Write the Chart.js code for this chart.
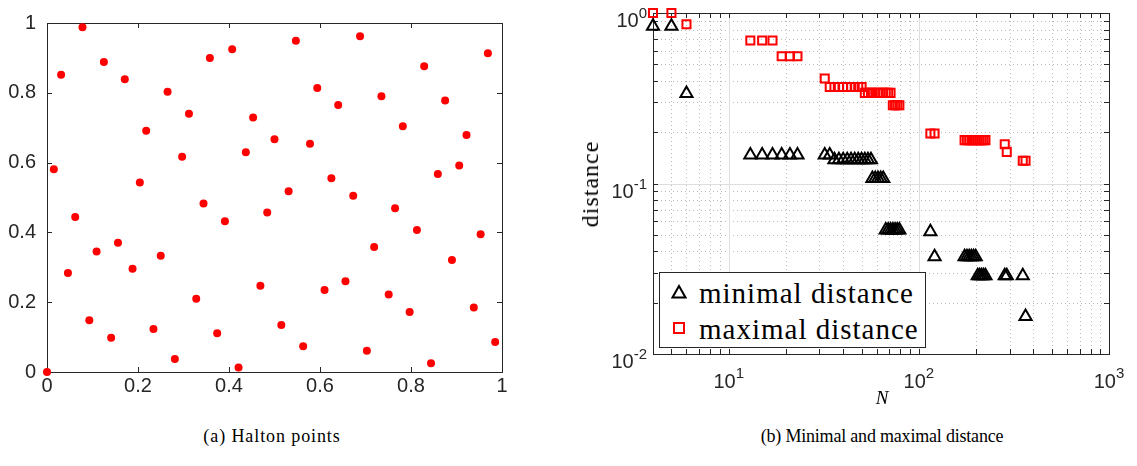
<!DOCTYPE html>
<html>
<head>
<meta charset="utf-8">
<script src="https://cdn.jsdelivr.net/npm/chart.js@4/dist/chart.umd.min.js"></script>
<style>
  body { margin: 0; background: #fff; }
  #wrap { position: relative; width: 1137px; height: 466px; overflow: hidden; }
  canvas { position: absolute; top: 0; }
  #halton { left: 0; }
  #dist { left: 560px; }
  .serif { position: absolute; font-family: "Liberation Serif", "DejaVu Serif", serif; color: #000; white-space: nowrap; line-height: 1; }
  .caption { font-size: 18px; top: 427px; transform: translateX(-50%); }
  #ylabel { left: 590px; top: 184px; font-size: 24px; letter-spacing: 1px; transform: translate(-50%, -50%) rotate(-90deg); }
  #xlabel { left: 882px; top: 388px; font-size: 19px; font-style: italic; transform: translateX(-50%); }
  #legend { position: absolute; left: 659px; top: 272px; width: 267px; height: 76px; box-sizing: border-box; border: 1px solid #262626; background: #fff; }
  #legend svg { position: absolute; left: 11px; }
  #legend .serif { left: 39px; font-size: 29px; letter-spacing: 1px; }
</style>
</head>
<body>
<div id="wrap">
  <canvas id="halton" width="560" height="410"></canvas>
  <canvas id="dist" width="577" height="400"></canvas>
  <div class="serif caption" style="left:272px; letter-spacing:0.9px">(a) Halton points</div>
  <div class="serif caption" style="left:882px; letter-spacing:-0.2px">(b) Minimal and maximal distance</div>
  <div class="serif" id="ylabel">distance</div>
  <div class="serif" id="xlabel">N</div>
  <div id="legend">
    <svg width="16" height="16" style="top:11px"><polygon points="8,2 14.5,13.5 1.5,13.5" fill="none" stroke="#000" stroke-width="2"/></svg>
    <div class="serif" style="top:6px">minimal distance</div>
    <svg width="16" height="16" style="top:47px"><rect x="3" y="3" width="10" height="10" fill="none" stroke="#f00" stroke-width="2"/></svg>
    <div class="serif" style="top:42px">maximal distance</div>
  </div>
</div>
<script>
// (a) halton points
const haltonX = [0, 0.015, 0.031, 0.078, 0.125, 0.171, 0.265, 0.218, 0.312, 0.297, 0.204, 0.358, 0.407, 0.453, 0.437, 0.344,
  0.547, 0.688, 0.969, 0.829, 0.594, 0.735, 0.875, 0.640, 0.782, 0.922, 0.500, 0.578, 0.906, 0.859, 0.625, 0.531,
  0.673, 0.765, 0.484, 0.813, 0.953, 0.719, 0.890, 0.469, 0.610, 0.656, 0.751, 0.797, 0.938, 0.515, 0.563, 0.703,
  0.844, 0.985, 0.062, 0.391, 0.046, 0.109, 0.156, 0.188, 0.250, 0.328, 0.093, 0.141, 0.234, 0.374, 0.281, 0.421];
const haltonY = [0, 0.581, 0.852, 0.988, 0.888, 0.839, 0.803, 0.691, 0.740, 0.617, 0.543, 0.900, 0.925, 0.729, 0.630, 0.483,
  0.949, 0.962, 0.913, 0.876, 0.814, 0.790, 0.778, 0.765, 0.704, 0.679, 0.667, 0.654, 0.592, 0.567, 0.555, 0.518,
  0.505, 0.469, 0.457, 0.407, 0.395, 0.358, 0.321, 0.247, 0.235, 0.260, 0.222, 0.172, 0.185, 0.135, 0.074, 0.061,
  0.025, 0.086, 0.444, 0.432, 0.284, 0.345, 0.370, 0.296, 0.333, 0.210, 0.148, 0.098, 0.123, 0.111, 0.037, 0.013];

// (b) distances against number of points
const nPoints = [4, 5, 6, 13, 15, 17, 19, 21, 23,
  32, 34, 36, 38, 40, 42, 44, 46, 48, 50, 52, 54, 56,
  57, 59, 61, 63, 65, 67, 69, 71, 73, 75, 77, 79,
  115, 121, 174, 179, 184, 189, 194, 199, 204, 209, 214, 219, 224,
  283, 290, 352, 364];
const minDistance = [0.836, 0.836, 0.337, 0.147, 0.147, 0.147, 0.147, 0.147, 0.147,
  0.147, 0.147, 0.138, 0.138, 0.138, 0.138, 0.138, 0.138, 0.138, 0.138, 0.138, 0.138, 0.138,
  0.107, 0.107, 0.107, 0.107, 0.107, 0.0533, 0.0533, 0.0533, 0.0533, 0.0533, 0.0533, 0.0533,
  0.0521, 0.0372, 0.0372, 0.0372, 0.0372, 0.0372, 0.0372, 0.0372, 0.0288, 0.0288, 0.0288, 0.0288, 0.0288,
  0.0288, 0.0288, 0.0288, 0.0166];
const maxDistance = [1.0, 1.0, 0.859, 0.689, 0.689, 0.689, 0.558, 0.558, 0.558,
  0.413, 0.368, 0.368, 0.368, 0.368, 0.368, 0.368, 0.368, 0.368, 0.368, 0.340, 0.340, 0.340,
  0.340, 0.340, 0.340, 0.340, 0.340, 0.340, 0.340, 0.340, 0.288, 0.288, 0.288, 0.288,
  0.1965, 0.1965, 0.1796, 0.1796, 0.1796, 0.1796, 0.1796, 0.1796, 0.1796, 0.1796, 0.1796, 0.1796, 0.1796,
  0.170, 0.1533, 0.1358, 0.1358];

// tick labels
const linTicks = [0, 0.2, 0.4, 0.6, 0.8, 1];
const xTickExp = [1, 2, 3];
const yTickExp = [-2, -1, 0];

const axisColor = '#262626';
const sans = '"Liberation Sans", Arial, sans-serif';

const crisp = v => Math.round(v) + 0.5;

function line(ctx, x1, y1, x2, y2) {
  ctx.beginPath();
  ctx.moveTo(x1, y1);
  ctx.lineTo(x2, y2);
  ctx.stroke();
}

// box + inward ticks on all four sides
function drawFrame(chart, xVals, yVals, len) {
  const { ctx, chartArea: a, scales } = chart;
  ctx.save();
  ctx.strokeStyle = axisColor;
  ctx.lineWidth = 1;
  ctx.strokeRect(crisp(a.left), crisp(a.top), Math.round(a.right - a.left), Math.round(a.bottom - a.top));
  xVals.forEach(v => {
    const x = crisp(scales.x.getPixelForValue(v));
    line(ctx, x, a.bottom, x, a.bottom - len);
    line(ctx, x, a.top, x, a.top + len);
  });
  yVals.forEach(v => {
    const y = crisp(scales.y.getPixelForValue(v));
    line(ctx, a.left, y, a.left + len, y);
    line(ctx, a.right, y, a.right - len, y);
  });
  ctx.restore();
}

function minorValues(min, max) {
  const out = [];
  for (let e = Math.floor(Math.log10(min)); e < Math.ceil(Math.log10(max)); e++) {
    for (let k = 1; k < 10; k++) {
      const v = k * Math.pow(10, e);
      if (v > min * 1.0001 && v < max * 0.9999) out.push(v);
    }
  }
  return out;
}

const haltonFrame = {
  id: 'haltonFrame',
  beforeDatasetsDraw(chart) {
    drawFrame(chart, linTicks, linTicks, 5);
  }
};

const distFrame = {
  id: 'distFrame',
  beforeDatasetsDraw(chart) {
    const { ctx, chartArea: a, scales } = chart;
    const xs = scales.x, ys = scales.y;
    const xMinor = minorValues(xs.min, xs.max);
    const yMinor = minorValues(ys.min, ys.max);
    const xMajor = xTickExp.map(e => Math.pow(10, e));
    const yMajor = yTickExp.map(e => Math.pow(10, e));

    ctx.save();
    // dotted minor grid
    ctx.strokeStyle = '#b8b8b8';
    ctx.setLineDash([1, 3]);
    xMinor.filter(v => !xMajor.includes(v)).forEach(v => {
      const x = crisp(xs.getPixelForValue(v));
      line(ctx, x, a.top, x, a.bottom);
    });
    yMinor.filter(v => !yMajor.includes(v)).forEach(v => {
      const y = crisp(ys.getPixelForValue(v));
      line(ctx, a.left, y, a.right, y);
    });
    // solid major grid
    ctx.setLineDash([]);
    ctx.strokeStyle = '#dedede';
    xMajor.forEach(v => {
      const x = crisp(xs.getPixelForValue(v));
      if (x > a.left + 1 && x < a.right - 1) line(ctx, x, a.top, x, a.bottom);
    });
    yMajor.forEach(v => {
      const y = crisp(ys.getPixelForValue(v));
      if (y > a.top + 1 && y < a.bottom - 1) line(ctx, a.left, y, a.right, y);
    });
    ctx.restore();

    drawFrame(chart, xMinor.concat(xMajor), yMinor.concat(yMajor), 5);

    // 10^k tick labels
    ctx.save();
    ctx.fillStyle = axisColor;
    ctx.textBaseline = 'alphabetic';
    const big = '20px ' + sans, small = '15px ' + sans;
    xTickExp.forEach(e => {
      const x = xs.getPixelForValue(Math.pow(10, e));
      ctx.font = big;
      const wb = ctx.measureText('10').width;
      ctx.font = small;
      const ws = ctx.measureText(String(e)).width;
      const left = x - (wb + ws) / 2;
      ctx.textAlign = 'left';
      ctx.font = big;
      ctx.fillText('10', left, a.bottom + 34);
      ctx.font = small;
      ctx.fillText(String(e), left + wb, a.bottom + 24);
    });
    yTickExp.forEach(e => {
      const y = ys.getPixelForValue(Math.pow(10, e));
      const right = a.left - 6;
      ctx.font = small;
      const ws = ctx.measureText(String(e)).width;
      ctx.textAlign = 'right';
      ctx.fillText(String(e), right, y + 5.3);
      ctx.font = big;
      ctx.fillText('10', right - ws, y + 14.3);
    });
    ctx.restore();
  }
};

const noGrid = { display: false, drawTicks: false };

new Chart(document.getElementById('halton'), {
  type: 'scatter',
  data: {
    datasets: [{
      data: haltonX.map((x, i) => ({ x: x, y: haltonY[i] })),
      pointBackgroundColor: '#ff0000',
      pointBorderWidth: 0,
      pointRadius: 4,
      clip: false
    }]
  },
  options: {
    responsive: false,
    animation: false,
    events: [],
    layout: { padding: { left: 0, right: 58, top: 12, bottom: 0 } },
    plugins: { legend: { display: false }, tooltip: { enabled: false } },
    scales: {
      x: {
        type: 'linear', min: 0, max: 1,
        grid: noGrid, border: { display: false },
        ticks: { stepSize: 0.2, padding: 2, maxRotation: 0, color: axisColor, font: { family: sans, size: 20 },
          callback: v => String(+v.toFixed(1)) },
        afterFit: s => { s.height = 38; }
      },
      y: {
        type: 'linear', min: 0, max: 1,
        grid: noGrid, border: { display: false },
        ticks: { stepSize: 0.2, padding: 11, color: axisColor, font: { family: sans, size: 20 },
          callback: v => String(+v.toFixed(1)) },
        afterFit: s => { s.width = 47; }
      }
    }
  },
  plugins: [haltonFrame]
});

new Chart(document.getElementById('dist'), {
  type: 'scatter',
  data: {
    datasets: [{
      label: 'minimal distance',
      data: nPoints.map((n, i) => ({ x: n, y: minDistance[i] })),
      pointStyle: 'triangle',
      pointRadius: 7,
      pointBorderWidth: 2,
      pointBorderColor: '#000000',
      pointBackgroundColor: 'rgba(0,0,0,0)',
      clip: false
    }, {
      label: 'maximal distance',
      data: nPoints.map((n, i) => ({ x: n, y: maxDistance[i] })),
      pointStyle: 'rect',
      pointRadius: 5.7,
      pointBorderWidth: 2,
      pointBorderColor: '#ff0000',
      pointBackgroundColor: 'rgba(0,0,0,0)',
      clip: false
    }]
  },
  options: {
    responsive: false,
    animation: false,
    events: [],
    layout: { padding: { left: 0, right: 28, top: 13, bottom: 0 } },
    plugins: { legend: { display: false }, tooltip: { enabled: false } },
    scales: {
      x: {
        type: 'logarithmic', min: 4, max: 1000,
        grid: noGrid, border: { display: false }, ticks: { display: false },
        afterBuildTicks: s => { s.ticks = xTickExp.map(e => ({ value: Math.pow(10, e) })); },
        afterFit: s => { s.height = 46; }
      },
      y: {
        type: 'logarithmic', min: 0.01, max: 1,
        grid: noGrid, border: { display: false }, ticks: { display: false },
        afterBuildTicks: s => { s.ticks = yTickExp.map(e => ({ value: Math.pow(10, e) })); },
        afterFit: s => { s.width = 93; }
      }
    }
  },
  plugins: [distFrame]
});
</script>
</body>
</html>
